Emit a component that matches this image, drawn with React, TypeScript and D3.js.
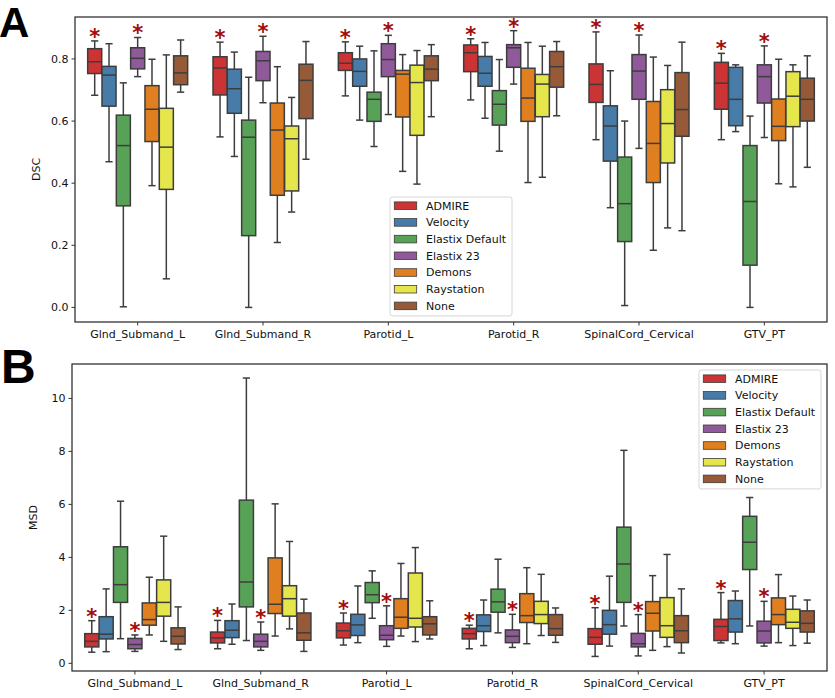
import React from "react";
import * as d3 from "d3";

const categories = ["Glnd_Submand_L", "Glnd_Submand_R", "Parotid_L", "Parotid_R", "SpinalCord_Cervical", "GTV_PT"];
const methods = ["ADMIRE", "Velocity", "Elastix Default", "Elastix 23", "Demons", "Raystation", "None"];
const methodColors = ["#cb3334", "#477ca8", "#58a257", "#90599a", "#df7f20", "#e5e54c", "#965a38"];
const starredMethods = ["ADMIRE", "Elastix 23"];

// DSC (panel A): rows = categories, columns = methods
const dscLow = [
  [0.683, 0.469, 0.002, 0.743, 0.392, 0.092, 0.693],
  [0.549, 0.486, 0.0, 0.659, 0.209, 0.307, 0.477],
  [0.681, 0.603, 0.518, 0.621, 0.438, 0.397, 0.614],
  [0.668, 0.609, 0.503, 0.719, 0.402, 0.419, 0.617],
  [0.54, 0.321, 0.006, 0.512, 0.184, 0.256, 0.247],
  [0.54, 0.566, 0.0, 0.547, 0.398, 0.388, 0.451],
];
const dscQ1 = [
  [0.753, 0.648, 0.327, 0.768, 0.534, 0.38, 0.717],
  [0.684, 0.625, 0.231, 0.73, 0.361, 0.375, 0.608],
  [0.763, 0.712, 0.599, 0.743, 0.613, 0.554, 0.73],
  [0.759, 0.712, 0.587, 0.773, 0.599, 0.614, 0.709],
  [0.66, 0.471, 0.212, 0.67, 0.402, 0.465, 0.551],
  [0.638, 0.585, 0.136, 0.658, 0.537, 0.582, 0.6],
];
const dscMedian = [
  [0.791, 0.748, 0.521, 0.802, 0.638, 0.516, 0.755],
  [0.771, 0.704, 0.548, 0.794, 0.571, 0.543, 0.731],
  [0.786, 0.76, 0.67, 0.798, 0.751, 0.724, 0.767],
  [0.82, 0.754, 0.654, 0.836, 0.674, 0.719, 0.775],
  [0.718, 0.584, 0.334, 0.761, 0.528, 0.592, 0.637],
  [0.722, 0.67, 0.341, 0.743, 0.583, 0.68, 0.67],
];
const dscQ3 = [
  [0.833, 0.776, 0.619, 0.836, 0.714, 0.641, 0.81],
  [0.807, 0.767, 0.603, 0.824, 0.658, 0.584, 0.783],
  [0.82, 0.8, 0.693, 0.849, 0.763, 0.78, 0.81],
  [0.845, 0.808, 0.698, 0.846, 0.77, 0.75, 0.824],
  [0.784, 0.649, 0.484, 0.814, 0.663, 0.701, 0.756],
  [0.789, 0.773, 0.521, 0.781, 0.671, 0.759, 0.738],
];
const dscHigh = [
  [0.858, 0.849, 0.723, 0.869, 0.799, 0.813, 0.861],
  [0.854, 0.822, 0.741, 0.873, 0.775, 0.676, 0.856],
  [0.855, 0.841, 0.826, 0.876, 0.814, 0.827, 0.846],
  [0.865, 0.853, 0.798, 0.891, 0.853, 0.841, 0.856],
  [0.887, 0.762, 0.6, 0.877, 0.806, 0.779, 0.854],
  [0.818, 0.781, 0.616, 0.842, 0.799, 0.781, 0.81],
];
const dscTicks = [0, 0.2, 0.4, 0.6, 0.8];

// MSD (panel B)
const msdLow = [
  [0.42, 0.44, 0.93, 0.45, 1.07, 0.83, 0.52],
  [0.55, 0.72, 0.86, 0.49, 1.03, 1.3, 0.45],
  [0.69, 0.78, 1.7, 0.64, 1.03, 0.82, 0.92],
  [0.55, 0.67, 1.15, 0.6, 0.74, 1.05, 0.79],
  [0.26, 0.65, 1.41, 0.28, 0.49, 0.63, 0.39],
  [0.77, 0.74, 1.41, 0.65, 0.78, 0.67, 0.76],
];
const msdQ1 = [
  [0.62, 0.92, 2.3, 0.55, 1.44, 1.78, 0.73],
  [0.77, 0.97, 2.13, 0.62, 1.88, 1.78, 0.87],
  [0.96, 1.05, 2.29, 0.89, 1.32, 1.37, 1.07],
  [0.92, 1.2, 1.93, 0.78, 1.54, 1.5, 1.06],
  [0.72, 1.1, 2.3, 0.62, 1.22, 0.98, 0.78],
  [0.86, 1.18, 3.54, 0.77, 1.46, 1.32, 1.18],
];
const msdMedian = [
  [0.83, 1.1, 2.97, 0.71, 1.65, 2.3, 1.02],
  [0.96, 1.25, 3.07, 0.83, 2.23, 2.44, 1.15],
  [1.23, 1.45, 2.59, 1.06, 1.74, 1.7, 1.49],
  [1.12, 1.42, 2.32, 1.02, 1.8, 1.84, 1.31],
  [0.98, 1.46, 3.75, 0.74, 1.89, 1.42, 1.23],
  [1.39, 1.68, 4.57, 1.22, 1.84, 1.55, 1.51],
];
const msdQ3 = [
  [1.12, 1.76, 4.4, 0.94, 2.28, 3.15, 1.34],
  [1.18, 1.61, 6.16, 1.1, 3.98, 2.93, 1.9],
  [1.52, 1.85, 3.05, 1.42, 2.44, 3.41, 1.76],
  [1.32, 1.83, 2.8, 1.26, 2.63, 2.34, 1.84],
  [1.31, 2.0, 5.14, 1.13, 2.33, 2.48, 1.8],
  [1.66, 2.37, 5.55, 1.59, 2.47, 2.04, 1.98],
];
const msdHigh = [
  [1.61, 2.81, 6.12, 1.07, 3.25, 4.8, 2.13],
  [1.62, 2.24, 10.77, 1.56, 6.02, 4.6, 2.42],
  [1.9, 2.92, 3.49, 2.17, 3.77, 4.37, 2.36],
  [1.44, 2.39, 3.93, 1.85, 3.61, 3.36, 2.09],
  [2.1, 3.29, 8.04, 1.84, 3.31, 4.11, 2.81],
  [2.67, 2.73, 6.26, 2.34, 3.35, 2.54, 2.39],
];
const msdTicks = [0, 2, 4, 6, 8, 10];

const FONT = "DejaVu Sans, Verdana, sans-serif";
const EDGE = "#3d3d3d";

type PanelProps = {
  letter: string;
  letterX: number;
  letterY: number;
  letterSize: number;
  left: number;
  right: number;
  top: number;
  bottom: number;
  yDomain: [number, number];
  ticks: number[];
  fmt: (v: number) => string;
  yLabel: string;
  low: number[][];
  q1: number[][];
  med: number[][];
  q3: number[][];
  high: number[][];
  legendX: number;
  legendY: number;
  legendW: number;
};

function Panel(p: PanelProps) {
  const x = d3.scaleBand<string>().domain(categories).range([p.left, p.right]).paddingInner(0).paddingOuter(0);
  const y = d3.scaleLinear().domain(p.yDomain).range([p.bottom, p.top]);
  const inner = d3
    .scaleBand<string>()
    .domain(methods)
    .range([0, x.bandwidth() * 0.8]);
  const bw = inner.bandwidth() * 0.98;
  const capW = inner.bandwidth() * 0.5;
  const off = x.bandwidth() * 0.1;
  const rowH = 16.7;

  return (
    <g>
      <text x={p.letterX} y={p.letterY} fontFamily="Liberation Sans, Arial, sans-serif" fontWeight="bold" fontSize={p.letterSize} fill="#000">
        {p.letter}
      </text>
      {/* y ticks */}
      {p.ticks.map((t) => (
        <g key={t}>
          <line x1={p.left - 3.5} x2={p.left} y1={y(t)} y2={y(t)} stroke="#333" strokeWidth={1} />
          <text x={p.left - 6.5} y={y(t)} dy="0.35em" textAnchor="end" fontFamily={FONT} fontSize={11} fill="#111">
            {p.fmt(t)}
          </text>
        </g>
      ))}
      <text
        transform={`translate(${p.left - 35},${(p.top + p.bottom) / 2}) rotate(-90)`}
        textAnchor="middle"
        fontFamily={FONT}
        fontSize={11}
        fill="#111"
      >
        {p.yLabel}
      </text>
      {/* x ticks */}
      {categories.map((c) => {
        const cx = (x(c) as number) + x.bandwidth() / 2;
        return (
          <g key={c}>
            <line x1={cx} x2={cx} y1={p.bottom} y2={p.bottom + 3.5} stroke="#333" strokeWidth={1} />
            <text x={cx} y={p.bottom + 16} textAnchor="middle" fontFamily={FONT} fontSize={11} fill="#111">
              {c}
            </text>
          </g>
        );
      })}
      {/* boxes */}
      {categories.map((c, ci) =>
        methods.map((m, mi) => {
          const cx = (x(c) as number) + off + (inner(m) as number) + inner.bandwidth() / 2;
          const lo = p.low[ci][mi];
          const a = p.q1[ci][mi];
          const md = p.med[ci][mi];
          const b = p.q3[ci][mi];
          const hi = p.high[ci][mi];
          return (
            <g key={c + m}>
              <line x1={cx} x2={cx} y1={y(b)} y2={y(hi)} stroke={EDGE} strokeWidth={1.5} />
              <line x1={cx} x2={cx} y1={y(a)} y2={y(lo)} stroke={EDGE} strokeWidth={1.5} />
              <line x1={cx - capW / 2} x2={cx + capW / 2} y1={y(hi)} y2={y(hi)} stroke={EDGE} strokeWidth={1.5} />
              <line x1={cx - capW / 2} x2={cx + capW / 2} y1={y(lo)} y2={y(lo)} stroke={EDGE} strokeWidth={1.5} />
              <rect
                x={cx - bw / 2}
                y={y(b)}
                width={bw}
                height={Math.max(0.5, y(a) - y(b))}
                fill={methodColors[mi]}
                stroke={EDGE}
                strokeWidth={1.5}
              />
              <line x1={cx - bw / 2} x2={cx + bw / 2} y1={y(md)} y2={y(md)} stroke={EDGE} strokeWidth={1.5} />
              {starredMethods.includes(m) && (
                <text x={cx} y={y(hi) + 3} textAnchor="middle" fontFamily={FONT} fontSize={21} fontWeight="bold" fill="#a30d0d">
                  *
                </text>
              )}
            </g>
          );
        })
      )}
      {/* frame */}
      <rect x={p.left} y={p.top} width={p.right - p.left} height={p.bottom - p.top} fill="none" stroke="#333" strokeWidth={1.3} />
      {/* legend */}
      <g transform={`translate(${p.legendX},${p.legendY})`}>
        <rect x={0} y={0} width={p.legendW} height={methods.length * rowH + 2} rx={2.5} fill="#fff" fillOpacity={0.85} stroke="#d6d6d6" strokeWidth={1} />
        {methods.map((m, i) => (
          <g key={m} transform={`translate(0,${8.7 + i * rowH})`}>
            <rect x={4.3} y={-3.8} width={22.4} height={7.6} fill={methodColors[i]} stroke={EDGE} strokeWidth={0.8} />
            <text x={36} y={0} dy="0.36em" fontFamily={FONT} fontSize={11} fill="#111">
              {m}
            </text>
          </g>
        ))}
      </g>
    </g>
  );
}

export default function App() {
  return (
    <svg width={835} height={698} style={{ position: "absolute", left: 0, top: 0, background: "#fff" }}>
      <rect x={0} y={0} width={835} height={698} fill="#fff" />
      <Panel
        letter="A"
        letterX={-1}
        letterY={37}
        letterSize={42}
        left={75}
        right={827}
        top={17}
        bottom={322}
        yDomain={[-0.047, 0.935]}
        ticks={dscTicks}
        fmt={(v) => v.toFixed(1)}
        yLabel="DSC"
        low={dscLow}
        q1={dscQ1}
        med={dscMedian}
        q3={dscQ3}
        high={dscHigh}
        legendX={390}
        legendY={197}
        legendW={122}
      />
      <Panel
        letter="B"
        letterX={1}
        letterY={383}
        letterSize={48}
        left={72}
        right={827}
        top={364}
        bottom={671}
        yDomain={[-0.29, 11.3]}
        ticks={msdTicks}
        fmt={(v) => String(v)}
        yLabel="MSD"
        low={msdLow}
        q1={msdQ1}
        med={msdMedian}
        q3={msdQ3}
        high={msdHigh}
        legendX={699}
        legendY={370}
        legendW={122}
      />
    </svg>
  );
}
